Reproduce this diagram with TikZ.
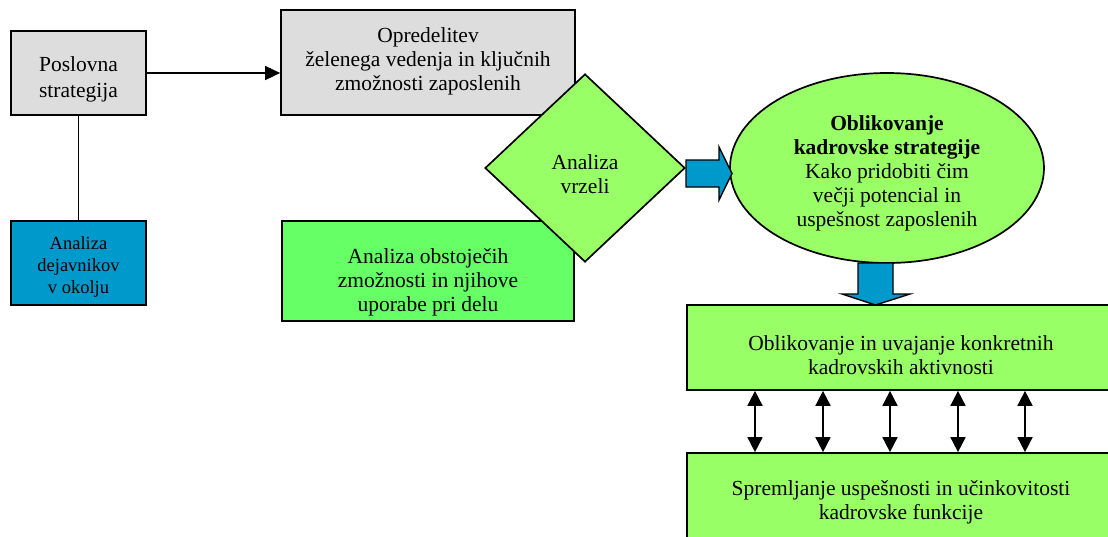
\documentclass[tikz,border=0pt]{standalone}
\usepackage{fontspec}
\setmainfont{Liberation Serif}
\usepackage{tikz}
\usetikzlibrary{shapes.geometric,arrows.meta}
\definecolor{boxgray}{RGB}{221,221,221}
\definecolor{envblue}{RGB}{0,153,204}
\definecolor{boxgreen}{RGB}{102,255,102}
\definecolor{lightgreen}{RGB}{153,255,102}

\begin{document}
\begin{tikzpicture}[x=1pt,y=-1pt,
    frame/.style={draw, line width=1.7pt, inner sep=0pt},
    txt/.style={align=center, inner sep=0pt, font=\fontsize{21.5}{24}\selectfont},
    fatarrow/.style={draw, line width=1.4pt, fill=envblue},
    dblarrow/.style={line width=1.7pt,
        {Triangle[length=15pt,width=15pt]}-{Triangle[length=15pt,width=15pt]}}]
    \useasboundingbox (0,0) rectangle (1108,536);

    % left column
    \node[frame, fill=boxgray, minimum width=135, minimum height=84] (strat) at (78.5,73) {};
    \node[txt, font=\fontsize{21.5}{26}\selectfont] (strat-t) at (78.5,79) {Poslovna\\strategija};
    \node[frame, fill=envblue, minimum width=135, minimum height=84] (env) at (78.5,263) {};
    \node[txt, font=\fontsize{18.5}{22}\selectfont] (env-t) at (78.5,267) {Analiza\\dejavnikov\\v okolju};
    \draw[line width=1.7pt] (strat.south) -- (env.north);

    % middle column
    \node[frame, fill=boxgray, minimum width=294, minimum height=105] (want) at (428,62.5) {};
    \node[txt] (want-t) at (428,61) {Opredelitev\\želenega vedenja in ključnih\\zmožnosti zaposlenih};
    \node[frame, fill=boxgreen, minimum width=292, minimum height=100] (have) at (428,271) {};
    \node[txt] (have-t) at (428,282) {Analiza obstoječih\\zmožnosti in njihove\\uporabe pri delu};
    \draw[line width=1.7pt, -{Triangle[length=15pt,width=14pt]}] (strat.east) -- (strat.east -| want.west);

    % gap analysis
    \node[frame, diamond, fill=lightgreen, aspect=1.06, minimum width=200, minimum height=188]
        (gap) at (585,168) {};
    \node[txt] (gap-t) at (585,174) {Analiza\\vrzeli};

    % strategy
    \node[frame, ellipse, fill=lightgreen, minimum width=314, minimum height=190] (hrs) at (887,168) {};
    \node[txt] (hrs-t) at (887,173)
        {\textbf{Oblikovanje}\\\textbf{kadrovske strategije}\\Kako pridobiti čim\\večji potencial in\\uspešnost zaposlenih};
    \draw[fatarrow] (686,160) -- (719,160) -- (719,147) -- (732,173.5) -- (719,200) -- (719,187)
        -- (686,187) -- cycle;
    \draw[fatarrow] (858,263) -- (893,263) -- (893,294) -- (910,294) -- (875.5,305) -- (842,294)
        -- (858,294) -- cycle;

    % activities and monitoring
    \node[frame, fill=lightgreen, minimum width=428, minimum height=85] (act) at (901,347.5) {};
    \node[txt] (act-t) at (901,355) {Oblikovanje in uvajanje konkretnih\\kadrovskih aktivnosti};
    \node[frame, fill=lightgreen, minimum width=428, minimum height=86] (mon) at (901,496) {};
    \node[txt] (mon-t) at (901,502) {Spremljanje uspešnosti in učinkovitosti\\kadrovske funkcije};
    \foreach \x in {755,823,890,958,1025}
        \draw[dblarrow] (\x,0 |- act.south) -- (\x,0 |- mon.north);
\end{tikzpicture}
\end{document}
